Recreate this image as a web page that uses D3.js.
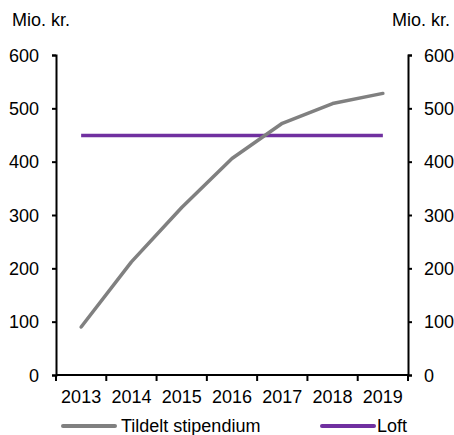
<!DOCTYPE html>
<html>
<head>
<meta charset="utf-8">
<script src="https://cdn.jsdelivr.net/npm/d3@7"></script>
<style>
  body { margin: 0; background: #fff; }
  svg { display: block; font-family: "Liberation Sans", Arial, sans-serif; }
  .axis path, .axis line { stroke: #000; stroke-width: 2; }
  .axis text { font-size: 18px; fill: #000; }
</style>
</head>
<body>
<svg id="chart" width="454" height="435"></svg>
<script>
const years = ["2013", "2014", "2015", "2016", "2017", "2018", "2019"];
const tildelt = [90, 212, 314, 406, 472, 509, 528];
const loft = [449, 449, 449, 449, 449, 449, 449];
const yTicks = [0, 100, 200, 300, 400, 500, 600];

const svg = d3.select("#chart");
const plotL = 56, plotR = 408, plotT = 55, plotB = 375;

const x = d3.scaleBand().domain(years).range([plotL, plotR]);
const y = d3.scaleLinear().domain([0, 600]).range([plotB, plotT]);
const cx = d => x(d) + x.bandwidth() / 2;

// left axis
svg.append("g").attr("class", "axis")
    .attr("transform", `translate(${plotL},0)`)
    .call(d3.axisLeft(y).tickValues(yTicks).tickSize(4).tickSizeOuter(4).tickPadding(13))
    .selectAll("text").attr("dy", "0.35em");

// right axis
svg.append("g").attr("class", "axis")
    .attr("transform", `translate(${plotR},0)`)
    .call(d3.axisRight(y).tickValues(yTicks).tickSize(4).tickSizeOuter(4).tickPadding(12))
    .selectAll("text").attr("dy", "0.35em");

// bottom axis: labels at band centres, ticks at band edges
const xg = svg.append("g").attr("class", "axis")
    .attr("transform", `translate(0,${plotB})`);
xg.append("line").attr("x1", plotL).attr("x2", plotR);
const edges = years.map(d => x(d)).concat([x.range()[1]]);
xg.selectAll(".tk").data(edges).join("line")
    .attr("class", "tk")
    .attr("x1", d => d).attr("x2", d => d)
    .attr("y1", 0).attr("y2", 6);
xg.selectAll(".lbl").data(years).join("text")
    .attr("class", "lbl")
    .attr("x", cx).attr("y", 28)
    .attr("text-anchor", "middle")
    .text(d => d);

// unit labels
svg.append("text").attr("x", 12).attr("y", 26).attr("font-size", 18).text("Mio. kr.");
svg.append("text").attr("x", 392).attr("y", 26).attr("font-size", 18).text("Mio. kr.");

const line = d3.line().x((d, i) => cx(years[i])).y(d => y(d));

svg.append("path").datum(loft)
    .attr("fill", "none").attr("stroke", "#7030A0")
    .attr("stroke-width", 3.5)
    .attr("d", line);

svg.append("path").datum(tildelt)
    .attr("fill", "none").attr("stroke", "#808080")
    .attr("stroke-width", 3.5).attr("stroke-linecap", "round")
    .attr("stroke-linejoin", "round")
    .attr("d", line);

// legend
const legend = [
  { name: "Tildelt stipendium", color: "#808080", x: 63 },
  { name: "Loft", color: "#7030A0", x: 322 }
];
const lg = svg.append("g").selectAll("g").data(legend).join("g")
    .attr("transform", d => `translate(${d.x},426)`);
lg.append("line").attr("x1", 0).attr("x2", 52)
    .attr("stroke", d => d.color).attr("stroke-width", 4)
    .attr("stroke-linecap", "round");
lg.append("text").attr("x", d => d.name === "Loft" ? 55 : 58).attr("y", 6)
    .attr("font-size", 18).text(d => d.name);
</script>
</body>
</html>
